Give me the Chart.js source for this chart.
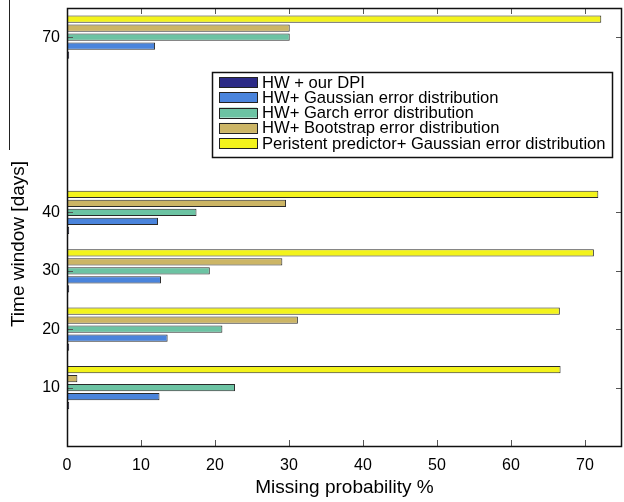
<!DOCTYPE html>
<html><head><meta charset="utf-8">
<script src="https://cdn.jsdelivr.net/npm/chart.js@4/dist/chart.umd.min.js"></script>
<style>html,body{margin:0;padding:0;background:#fff;}#wrap{width:624px;height:502px;}</style>
</head><body><div id="wrap"><canvas id="c" width="624" height="502"></canvas></div>
<script>
// ---- data ----
const timeWindows = [10, 20, 30, 40, 70];
const yTickValues = [10, 20, 30, 40, 70];
const xTickValues = [0, 10, 20, 30, 40, 50, 60, 70];
const seriesNames = [
  'HW + our DPI',
  'HW+ Gaussian error distribution',
  'HW+ Garch error distribution',
  'HW+ Bootstrap error distribution',
  'Peristent predictor+ Gaussian error distribution'
];
const hwDpi       = [0.3, 0.3, 0.3, 0.3, 0.3];
const hwGaussian  = [12.5, 13.6, 12.7, 12.3, 11.9];
const hwGarch     = [22.7, 21.0, 19.3, 17.5, 30.1];
const hwBootstrap = [1.4, 31.2, 29.1, 29.6, 30.1];
const persistent  = [66.7, 66.6, 71.2, 71.8, 72.2];
const seriesColors = ['#2c2a86', '#4a84dc', '#6cc3a3', '#ccb565', '#f3f31c'];
const xTitle = 'Missing probability %';
const yTitle = 'Time window [days]';

const allSeries = [hwDpi, hwGaussian, hwGarch, hwBootstrap, persistent];
const FONT = '"Liberation Sans", Arial, Helvetica, sans-serif';

// datasets reversed so the last series sits on top of each group
const datasets = allSeries.map((vals, i) => ({
  label: seriesNames[i],
  data: timeWindows.map((t, k) => ({ x: vals[k], y: t })),
  backgroundColor: seriesColors[i],
  borderColor: '#2a2a2a',
  borderWidth: 1,
  borderSkipped: false,
  categoryPercentage: 0.77,
  barPercentage: 0.8
})).reverse();

const framePlugin = {
  id: 'frame',
  afterDraw(chart) {
    const { ctx, chartArea: a, scales } = chart;
    ctx.save();
    // inward ticks
    ctx.strokeStyle = '#555';
    ctx.lineWidth = 1;
    const tl = 6;
    xTickValues.forEach(v => {
      const px = Math.round(scales.x.getPixelForValue(v)) + 0.5;
      ctx.beginPath();
      ctx.moveTo(px, a.bottom); ctx.lineTo(px, a.bottom - tl);
      ctx.moveTo(px, a.top); ctx.lineTo(px, a.top + tl);
      ctx.stroke();
    });
    yTickValues.forEach(v => {
      const py = Math.round(scales.y.getPixelForValue(v)) + 0.5;
      ctx.beginPath();
      ctx.moveTo(a.left, py); ctx.lineTo(a.left + tl, py);
      ctx.moveTo(a.right, py); ctx.lineTo(a.right - tl, py);
      ctx.stroke();
    });
    // box
    ctx.strokeStyle = '#111';
    ctx.lineWidth = 1.5;
    ctx.strokeRect(Math.round(a.left) + 0.5, Math.round(a.top) + 0.5, Math.round(a.right - a.left) - 1, Math.round(a.bottom - a.top));
    // legend box
    const lx = 212, ly = 72, lw = 400, lh = 85;
    ctx.fillStyle = '#fff';
    ctx.fillRect(lx, ly, lw, lh);
    ctx.strokeStyle = '#111';
    ctx.lineWidth = 1.5;
    ctx.strokeRect(lx + 0.5, ly + 0.5, lw, lh);
    ctx.font = '16.6px ' + FONT;
    ctx.textBaseline = 'middle';
    ctx.textAlign = 'left';
    seriesNames.forEach((name, i) => {
      const cy = 82 + i * 15.3;
      ctx.fillStyle = seriesColors[i];
      ctx.fillRect(219, cy - 5, 38, 10);
      ctx.strokeStyle = '#222';
      ctx.lineWidth = 1;
      ctx.strokeRect(219.5, Math.round(cy - 5) + 0.5, 38, 10);
      ctx.fillStyle = '#000';
      ctx.fillText(name, 262, cy + 1);
    });
    // y axis title
    ctx.save();
    ctx.translate(19, 244);
    ctx.rotate(-Math.PI / 2);
    ctx.font = '19px ' + FONT;
    ctx.textAlign = 'center';
    ctx.textBaseline = 'middle';
    ctx.fillStyle = '#000';
    ctx.fillText(yTitle, 0, 0);
    ctx.restore();
    // stray line at the left edge of the figure
    ctx.strokeStyle = '#222';
    ctx.lineWidth = 1;
    ctx.beginPath();
    ctx.moveTo(9.5, 0); ctx.lineTo(9.5, 150);
    ctx.stroke();
    ctx.restore();
  }
};

new Chart(document.getElementById('c'), {
  type: 'bar',
  data: { datasets },
  options: {
    indexAxis: 'y',
    responsive: false,
    animation: false,
    layout: { padding: { top: 8, right: 2, left: 0, bottom: 0 } },
    plugins: { legend: { display: false }, tooltip: { enabled: false } },
    scales: {
      x: {
        type: 'linear',
        min: 0, max: 75,
        offset: false,
        grid: { display: false, drawTicks: false },
        border: { display: false },
        afterBuildTicks: s => { s.ticks = xTickValues.map(v => ({ value: v })); },
        afterFit: s => { s.height = 56; s.paddingLeft = 0; s.paddingRight = 0; },
        ticks: { color: '#000', padding: 10, font: { family: FONT, size: 16 } },
        title: { display: true, text: xTitle, color: '#000', padding: { top: 0, bottom: 3 }, font: { family: FONT, size: 19 } }
      },
      y: {
        type: 'linear',
        min: 0, max: 75,
        offset: false,
        grid: { display: false, drawTicks: false },
        border: { display: false },
        afterBuildTicks: s => { s.ticks = yTickValues.map(v => ({ value: v })); },
        afterFit: s => { s.width = 67; s.paddingTop = 0; s.paddingBottom = 0; },
        ticks: { color: '#000', padding: 7, font: { family: FONT, size: 16 } },
        title: { display: false }
      }
    }
  },
  plugins: [framePlugin]
});
</script>
</body></html>
